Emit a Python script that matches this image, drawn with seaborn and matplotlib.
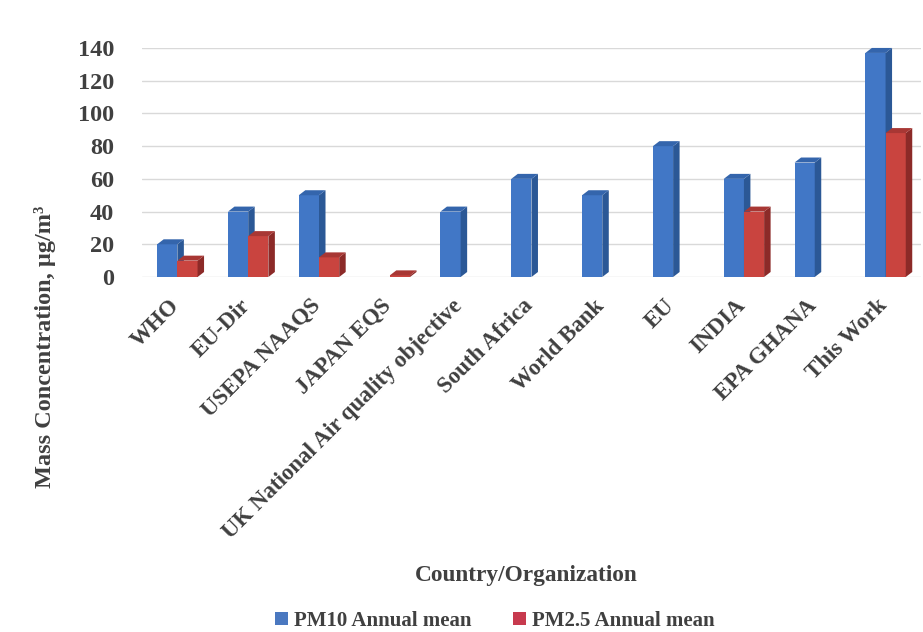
import numpy as np
import pandas as pd
import matplotlib
matplotlib.use("Agg")
import matplotlib.pyplot as plt
import matplotlib.transforms as mtransforms
from matplotlib.patches import Polygon, Patch
import seaborn as sns

categories = ["WHO", "EU-Dir", "USEPA NAAQS", "JAPAN EQS",
              "UK National Air quality objective", "South Africa",
              "World Bank", "EU", "INDIA", "EPA GHANA", "This Work"]
pm10 = [20, 40, 50, np.nan, 40, 60, 50, 80, 60, 70, 137]
pm25 = [10, 25, 12, 1, np.nan, np.nan, np.nan, np.nan, 40, np.nan, 88]
series = ["PM10 Annual mean", "PM2.5 Annual mean"]
yticks = [0, 20, 40, 60, 80, 100, 120, 140]

front = {"PM10 Annual mean": "#4177C6", "PM2.5 Annual mean": "#C9443F"}
side = {"PM10 Annual mean": "#2B5896", "PM2.5 Annual mean": "#8C2A28"}
top = {"PM10 Annual mean": "#3465AC", "PM2.5 Annual mean": "#A83734"}
legend_col = {"PM10 Annual mean": "#4A78C0", "PM2.5 Annual mean": "#C73A4E"}

df = pd.DataFrame({
    "Category": categories * 2,
    "Series": [series[0]] * len(categories) + [series[1]] * len(categories),
    "Value": list(pm10) + list(pm25),
}).dropna()

sns.set_theme(style="white")
plt.rcParams["font.family"] = ["Liberation Serif", "DejaVu Serif"]
plt.rcParams["font.weight"] = "bold"
txt = "#404040"

fig = plt.figure(figsize=(9.23, 6.32), dpi=100)
ax = fig.add_axes([0.1538, 0.5617, 0.844, 0.3623])

sns.barplot(data=df, x="Category", y="Value", hue="Series", order=categories,
            hue_order=series, palette=front, width=0.57, saturation=1,
            errorbar=None, legend=False, ax=ax, linewidth=0)

ax.set_xlim(-0.5, len(categories) - 0.5)
ax.set_ylim(0, 140)

# pseudo-3D depth: side and top faces derived from each bar
px_x = 779 / len(categories)          # pixels per category
px_y = 229 / 140                      # pixels per unit
dx = 6.5 / px_x
dy = 5 / px_y
z = 2
for si, cont in enumerate(ax.containers):
    s = series[si]
    for bar in cont:
        h = bar.get_height()
        if h is None or np.isnan(h):
            continue
        x0 = bar.get_x()
        x1 = x0 + bar.get_width()
        bar.set_zorder(z)
        bar.set_clip_on(False)
        sf = Polygon([(x1, 0), (x1 + dx, dy), (x1 + dx, h + dy), (x1, h)],
                     closed=True, facecolor=side[s], edgecolor="none",
                     zorder=z, clip_on=False)
        tf = Polygon([(x0, h), (x0 + dx, h + dy), (x1 + dx, h + dy), (x1, h)],
                     closed=True, facecolor=top[s], edgecolor="none",
                     zorder=z, clip_on=False)
        ax.add_patch(sf)
        ax.add_patch(tf)
    z += 1

ax.set_yticks(yticks)
ax.set_yticklabels([str(t) for t in yticks])
ax.yaxis.grid(True, color="#D9D9D9", linewidth=1)
ax.set_axisbelow(True)
for sp in ax.spines.values():
    sp.set_visible(False)
ax.tick_params(axis="y", length=0, pad=20, labelsize=17.5, labelcolor=txt)
ax.tick_params(axis="x", length=0, pad=6, labelsize=16.5, labelcolor=txt)
ax.set_xlabel("")
ax.set_ylabel("")
shift = mtransforms.ScaledTranslation(-9 / 100, -10 / 100, fig.dpi_scale_trans)
for lbl in ax.get_xticklabels():
    lbl.set_rotation(45)
    lbl.set_ha("right")
    lbl.set_rotation_mode("anchor")
    lbl.set_fontweight("bold")
    lbl.set_transform(lbl.get_transform() + shift)
for lbl in ax.get_yticklabels():
    lbl.set_fontweight("bold")

fig.text(45 / 923, 1 - 347 / 632, "Mass Concentration, µg/m³", rotation=90,
         ha="center", va="center", fontsize=17.5, fontweight="bold", color=txt)
fig.text(526 / 923, 1 - 575 / 632, "Country/Organization",
         ha="center", va="center", fontsize=16.8, fontweight="bold", color=txt)

handles = [Patch(facecolor=legend_col[s], edgecolor="none") for s in series]
fig.legend(handles, series, loc="center", bbox_to_anchor=(495 / 923, 1 - 621 / 632),
           ncol=2, frameon=False, handlelength=0.6, handleheight=0.6,
           handletextpad=0.3, columnspacing=2.0,
           prop={"weight": "bold", "size": 15})
for t in fig.legends[0].get_texts():
    t.set_color(txt)

fig.savefig("out.png", dpi=100)
